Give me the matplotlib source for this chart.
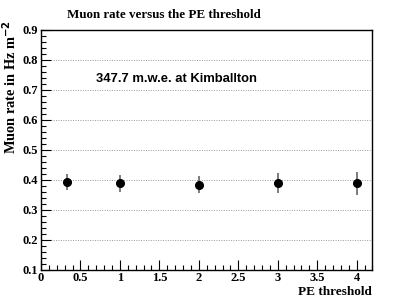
import matplotlib
matplotlib.use('Agg')
import matplotlib.pyplot as plt
from matplotlib.ticker import MultipleLocator

# PE threshold values and measured muon rates
pe_threshold = [0.33, 1, 2, 3, 4]
muon_rate = [0.392, 0.387, 0.383, 0.388, 0.387]
rate_err = [0.028, 0.029, 0.029, 0.034, 0.038]

plt.rcParams['font.family'] = 'Liberation Serif'
plt.rcParams['font.weight'] = 'bold'

fig = plt.figure(figsize=(4.14, 3.0), dpi=100)
ax = fig.add_axes([41 / 414, 1 - 269.5 / 300, 331.5 / 414, 240 / 300])

ax.errorbar(pe_threshold, muon_rate, yerr=rate_err, fmt='o', color='black',
            ecolor='#666666', elinewidth=1.2, markersize=5.5, capsize=0, zorder=3)

ax.set_xlim(0, 4.2)
ax.set_ylim(0.1, 0.9)
ax.xaxis.set_minor_locator(MultipleLocator(0.1))
ax.yaxis.set_minor_locator(MultipleLocator(0.02))
ax.set_xticks([0, 0.5, 1, 1.5, 2, 2.5, 3, 3.5, 4])
ax.set_xticklabels(['0', '0.5', '1', '1.5', '2', '2.5', '3', '3.5', '4'])
ax.set_yticks([0.1, 0.2, 0.3, 0.4, 0.5, 0.6, 0.7, 0.8, 0.9])
ax.set_yticklabels(['0.1', '0.2', '0.3', '0.4', '0.5', '0.6', '0.7', '0.8', '0.9'])
ax.tick_params(which='major', direction='in', length=7, width=0.8, labelsize=9, pad=2)
ax.tick_params(which='minor', direction='in', length=3.5, width=0.8)
ax.tick_params(top=False, right=False, which='both')
for s in ax.spines.values():
    s.set_linewidth(1.0)

ax.yaxis.grid(True, linestyle=(0, (1, 1.5)), color='#999999', linewidth=0.7)
ax.set_axisbelow(True)

fig.text(372 / 414, 1 - 292 / 300, 'PE threshold', fontsize=9.5,
         fontweight='bold', va='center', ha='right')
fig.text(10 / 414, 1 - 20 / 300, 'Muon rate in Hz m$^{\\mathbf{-2}}$', fontsize=10.4,
         fontweight='bold', rotation=90, va='top', ha='center')
fig.text(67 / 414, 1 - 15 / 300, 'Muon rate versus the PE threshold', fontsize=9.4,
         fontweight='bold', va='center', ha='left')
fig.text(96 / 414, 1 - 79 / 300, '347.7 m.w.e. at Kimballton', fontsize=9.4,
         fontweight='bold', family='Liberation Sans', va='center', ha='left')

fig.savefig('out.png', dpi=100)
